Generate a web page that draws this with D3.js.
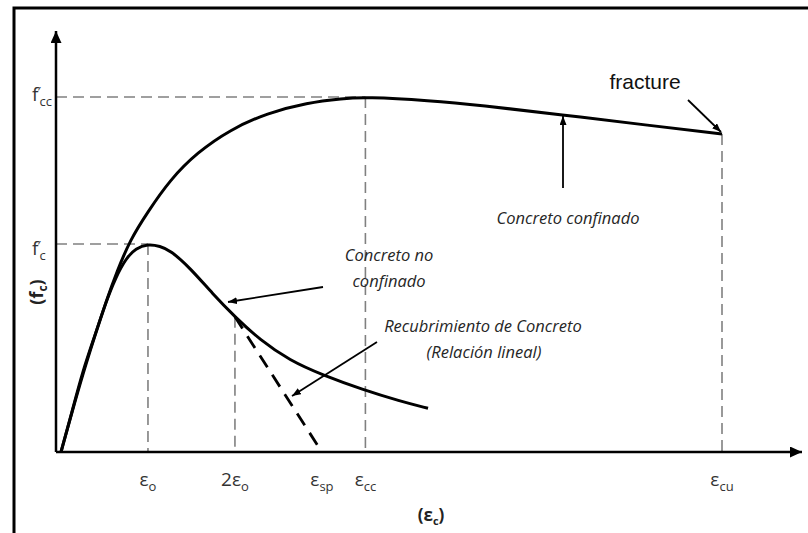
<!DOCTYPE html>
<html>
<head>
<meta charset="UTF-8">
<title>Concreto confinado / no confinado</title>
<script src="https://cdn.jsdelivr.net/npm/d3@7"></script>
<style>
	body {
		padding: 0;
		margin: 0;
		background: #fff;
	}
</style>
</head>
<body>
<script>
	// strain in per mil, stress as f / f'c
	var confinedStrain = [0, 0.25, 0.5, 0.78, 1.03, 1.29, 1.59, 1.98, 2.51, 3.13, 3.89, 4.74, 5.66, 6.48, 7.0, 8.48, 9.63, 11.52, 13.47, 15.2];
	var confinedStress = [0, 0.19, 0.39, 0.56, 0.72, 0.87, 1.02, 1.15, 1.31, 1.44, 1.55, 1.63, 1.68, 1.70, 1.707, 1.69, 1.668, 1.621, 1.572, 1.529];

	var unconfinedStrain = [0, 0.25, 0.51, 0.78, 1.03, 1.26, 1.49, 1.72, 2.0, 2.28, 2.51, 2.97, 3.49, 4.0, 4.57, 5.26, 6.02, 6.94, 7.79, 8.44];
	var unconfinedStress = [0, 0.19, 0.38, 0.56, 0.72, 0.84, 0.93, 0.98, 1.0, 0.99, 0.97, 0.885, 0.76, 0.65, 0.54, 0.44, 0.37, 0.30, 0.245, 0.21];

	// spalling (linear) branch
	var spallStrain = [4.0, 6.0];
	var spallStress = [0.65, 0];

	var strainTicks = [2.0, 4.0, 6.0, 7.0, 15.2];
	var strainTickMain = ["ε", "2ε", "ε", "ε", "ε"];
	var strainTickSub = ["o", "o", "sp", "cc", "cu"];

	var stressTicks = [1.0, 1.707];
	var stressTickSub = ["c", "cc"];
	var stressGuideEnd = [2.0, 7.0];

	var guideStrain = [2.0, 4.0, 7.0, 15.2];
	var guideStress = [1.0, 0.65, 1.707, 1.529];

	var w = 808,
		h = 533;

	var x = d3.scaleLinear().domain([0, 15.2]).range([61, 722]);
	var y = d3.scaleLinear().domain([0, 1.707]).range([452, 97]);

	var axisX0 = 56,
		axisXEnd = 802,
		axisYTop = 31;

	var svg = d3.select("body").append("svg")
		.attr("width", w)
		.attr("height", h);

	var defs = svg.append("defs");
	defs.append("marker")
		.attr("id", "axisHead")
		.attr("markerUnits", "userSpaceOnUse")
		.attr("viewBox", "0 0 12 11")
		.attr("refX", 12).attr("refY", 5.5)
		.attr("markerWidth", 12).attr("markerHeight", 11)
		.attr("orient", "auto")
		.append("path").attr("d", "M0,0L12,5.5L0,11Z").attr("fill", "#000");
	defs.append("marker")
		.attr("id", "tip")
		.attr("markerUnits", "userSpaceOnUse")
		.attr("viewBox", "0 0 9 7")
		.attr("refX", 9).attr("refY", 3.5)
		.attr("markerWidth", 9).attr("markerHeight", 7)
		.attr("orient", "auto")
		.append("path").attr("d", "M0,0L9,3.5L0,7Z").attr("fill", "#000");

	// frame
	svg.append("rect")
		.attr("x", 14).attr("y", 8)
		.attr("width", 810).attr("height", 540)
		.attr("fill", "none")
		.attr("stroke", "#000")
		.attr("stroke-width", 3);

	// grey guide lines
	var guides = svg.append("g")
		.attr("stroke", "#808080")
		.attr("stroke-width", 1.6)
		.attr("stroke-dasharray", "11,6")
		.attr("fill", "none");

	stressTicks.forEach(function(s, i) {
		guides.append("line")
			.attr("x1", axisX0).attr("y1", y(s))
			.attr("x2", x(stressGuideEnd[i])).attr("y2", y(s));
	});
	guideStrain.forEach(function(e, i) {
		guides.append("line")
			.attr("x1", x(e)).attr("y1", y(guideStress[i]))
			.attr("x2", x(e)).attr("y2", y(0));
	});

	function pts(xs, ys) {
		return xs.map(function(d, i) { return [d, ys[i]]; });
	}

	var line = d3.line()
		.x(function(d) { return x(d[0]); })
		.y(function(d) { return y(d[1]); })
		.curve(d3.curveBasis);

	// spalling dashed line
	svg.append("path")
		.attr("d", d3.line().x(function(d) { return x(d[0]); }).y(function(d) { return y(d[1]); })(pts(spallStrain, spallStress)))
		.attr("fill", "none")
		.attr("stroke", "#000")
		.attr("stroke-width", 2.8)
		.attr("stroke-dasharray", "14,9");

	svg.append("path")
		.attr("d", line(pts(unconfinedStrain, unconfinedStress)))
		.attr("fill", "none")
		.attr("stroke", "#000")
		.attr("stroke-width", 3);

	svg.append("path")
		.attr("d", line(pts(confinedStrain, confinedStress)))
		.attr("fill", "none")
		.attr("stroke", "#000")
		.attr("stroke-width", 3);

	// axes
	svg.append("line")
		.attr("x1", axisX0).attr("y1", y(0))
		.attr("x2", axisXEnd).attr("y2", y(0))
		.attr("stroke", "#000").attr("stroke-width", 2.5)
		.attr("marker-end", "url(#axisHead)");
	svg.append("line")
		.attr("x1", axisX0).attr("y1", y(0))
		.attr("x2", axisX0).attr("y2", axisYTop)
		.attr("stroke", "#000").attr("stroke-width", 2.5)
		.attr("marker-end", "url(#axisHead)");

	// x tick labels
	var labFont = "'Open Sans', sans-serif";
	strainTicks.forEach(function(e, i) {
		var t = svg.append("text")
			.attr("x", x(e))
			.attr("y", 486)
			.attr("text-anchor", "middle")
			.attr("fill", "#333")
			.style("font-family", labFont)
			.style("font-size", "19px");
		t.append("tspan").text(strainTickMain[i]);
		t.append("tspan").attr("dy", 5).style("font-size", "13px").text(strainTickSub[i]);
	});

	// y tick labels
	stressTicks.forEach(function(s, i) {
		var t = svg.append("text")
			.attr("x", 32)
			.attr("y", y(s) + 4 + (i === 0 ? 7 : 0))
			.attr("fill", "#333")
			.style("font-family", labFont)
			.style("font-size", "19px");
		t.append("tspan").text("f");
		t.append("tspan").attr("dx", -1).attr("dy", -5).style("font-size", "13px").text("′");
		t.append("tspan").attr("dx", -1).attr("dy", 10).style("font-size", "13px").text(stressTickSub[i]);
	});

	// axis titles
	var xt = svg.append("text")
		.attr("x", 431).attr("y", 521)
		.attr("text-anchor", "middle")
		.attr("fill", "#222")
		.style("font-family", labFont)
		.style("font-weight", "bold")
		.style("font-size", "17px");
	xt.append("tspan").text("(ε");
	xt.append("tspan").attr("dy", 4).style("font-size", "11px").text("c");
	xt.append("tspan").attr("dy", -4).text(")");

	var yt = svg.append("text")
		.attr("transform", "translate(43,292) rotate(-90)")
		.attr("text-anchor", "middle")
		.attr("fill", "#222")
		.style("font-family", labFont)
		.style("font-weight", "bold")
		.style("font-size", "18px");
	yt.append("tspan").text("(f");
	yt.append("tspan").attr("dy", 4).style("font-size", "12px").text("c");
	yt.append("tspan").attr("dy", -4).text(")");

	// annotations
	var noteFont = "'Open Sans', sans-serif";
	function note(tx, ty, str, size) {
		svg.append("text")
			.attr("x", tx).attr("y", ty)
			.attr("text-anchor", "middle")
			.attr("fill", "#262626")
			.style("font-family", noteFont)
			.style("font-style", "italic")
			.style("font-size", size + "px")
			.text(str);
	}
	function arrow(x1, y1, x2, y2) {
		svg.append("line")
			.attr("x1", x1).attr("y1", y1)
			.attr("x2", x2).attr("y2", y2)
			.attr("stroke", "#000")
			.attr("stroke-width", 1.8)
			.attr("marker-end", "url(#tip)");
	}

	svg.append("text")
		.attr("x", 645).attr("y", 89)
		.attr("text-anchor", "middle")
		.attr("fill", "#111")
		.style("font-family", "'Liberation Sans', Arial, sans-serif")
		.style("font-size", "21px")
		.text("fracture");
	arrow(688, 100, 721, 132);

	note(568, 224, "Concreto confinado", 16.5);
	arrow(563, 188, 563, 116);

	note(389, 261, "Concreto  no", 16.5);
	note(389, 287, "confinado", 16.5);
	arrow(323, 287, 228, 302);

	note(483, 332, "Recubrimiento de Concreto", 16.5);
	note(484, 358, "(Relación lineal)", 16.5);
	arrow(377, 342, 292, 396);
</script>
</body>
</html>
